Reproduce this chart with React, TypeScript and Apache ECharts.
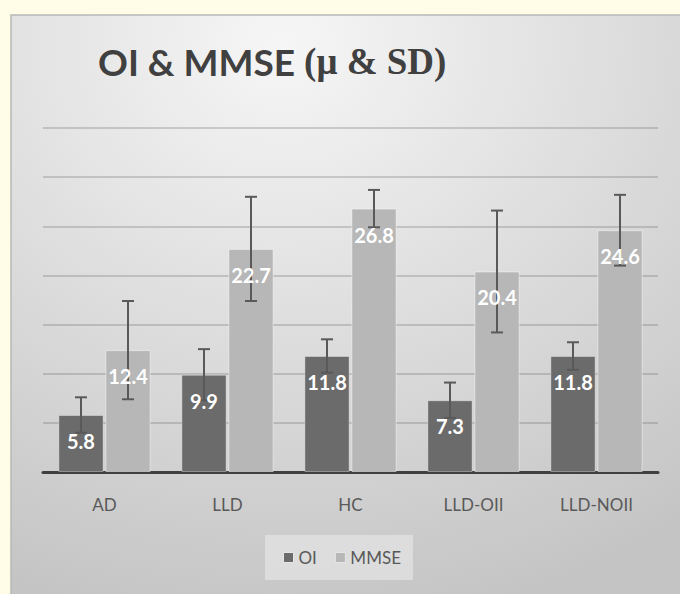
import React, { useEffect, useRef } from "react";
import * as echarts from "echarts";

const categories = ["AD", "LLD", "HC", "LLD-OII", "LLD-NOII"];
const oiMeans = [5.8, 9.9, 11.8, 7.3, 11.8];
const oiSD = [1.8, 2.6, 1.7, 1.8, 1.4];
const mmseMeans = [12.4, 22.7, 26.8, 20.4, 24.6];
const mmseSD = [5.0, 5.3, 1.9, 6.2, 3.6];
const seriesNames = ["OI", "MMSE"];

const CAT_GAP = 0.25;
const BAR_GAP = 0.04;

function barOffset(api: any, idx: number) {
  const band = api.size([1, 0])[0];
  const usable = band * (1 - CAT_GAP);
  const bw = usable / (2 + BAR_GAP);
  return (idx === 0 ? -1 : 1) * (bw + bw * BAR_GAP) / 2;
}

function makeErrorSeries(means: number[], sds: number[], idx: number) {
  return {
    type: "custom",
    name: seriesNames[idx] + "-err",
    z: 5,
    silent: true,
    data: means.map((m, i) => [i, m, sds[i]]),
    renderItem: (params: any, api: any) => {
      const ci = api.value(0);
      const m = api.value(1);
      const sd = api.value(2);
      const off = barOffset(api, idx);
      const top = api.coord([ci, m + sd]);
      const bot = api.coord([ci, m - sd]);
      const x = top[0] + off;
      const cap = 6;
      const style = { stroke: "#595959", lineWidth: 2 };
      return {
        type: "group",
        children: [
          { type: "line", shape: { x1: x, y1: top[1], x2: x, y2: bot[1] }, style },
          { type: "line", shape: { x1: x - cap, y1: top[1], x2: x + cap, y2: top[1] }, style },
          { type: "line", shape: { x1: x - cap, y1: bot[1], x2: x + cap, y2: bot[1] }, style },
        ],
      };
    },
  };
}

function makeLabelSeries(means: number[], idx: number) {
  return {
    type: "custom",
    name: seriesNames[idx] + "-lbl",
    z: 6,
    silent: true,
    data: means.map((m, i) => [i, m]),
    renderItem: (params: any, api: any) => {
      const ci = api.value(0);
      const m = api.value(1);
      const off = barOffset(api, idx);
      const p = api.coord([ci, m]);
      return {
        type: "text",
        x: p[0] + off,
        y: p[1] + 26,
        style: {
          text: String(m),
          fill: "#ffffff",
          fontFamily: "Lato",
          fontWeight: "bold",
          fontSize: 20,
          align: "center",
          verticalAlign: "middle",
        },
      };
    },
  };
}

export default function App() {
  const ref = useRef<HTMLDivElement>(null);
  useEffect(() => {
    if (!ref.current) return;
    const chart = echarts.init(ref.current, null, { renderer: "svg" });
    chart.setOption({
      animation: false,
      graphic: [
        {
          type: "rect",
          z: -10,
          shape: { x: 11, y: 15, width: 680, height: 590 },
          style: {
            fill: new echarts.graphic.RadialGradient(0.4, 0.05, 1.0, [
              { offset: 0, color: "#f6f6f6" },
              { offset: 1, color: "#c4c4c4" },
            ]),
            stroke: "#b8b8b8",
            lineWidth: 1.5,
          },
          silent: true,
        },
      ],
      title: {
        text: "{a|OI & MMSE }{b|(μ & SD)}",
        left: 93,
        top: 38,
        textStyle: {
          rich: {
            a: { fontFamily: "Lato", fontWeight: "bold", fontSize: 37, color: "#404040" },
            b: { fontFamily: "Liberation Serif", fontWeight: "bold", fontSize: 37, color: "#404040" },
          },
        },
      },
      legend: {
        data: seriesNames.map((n) => ({ name: n, itemStyle: { borderColor: "#e6e6e6", borderWidth: 1 } })),
        left: 265,
        top: 535,
        padding: [14, 12, 14, 18],
        backgroundColor: "rgba(225,225,225,0.8)",
        itemWidth: 10,
        itemHeight: 10,
        itemGap: 18,
        icon: "rect",
        textStyle: { fontFamily: "Lato", fontSize: 17, color: "#595959" },
      },
      grid: { left: 43, right: 22, top: 128, bottom: 122 },
      xAxis: {
        type: "category",
        data: categories,
        axisTick: { show: false },
        axisLine: { lineStyle: { color: "#404040", width: 3 } },
        axisLabel: { fontFamily: "Lato", fontSize: 17, color: "#595959", margin: 24 },
      },
      yAxis: {
        type: "value",
        min: 0,
        max: 35,
        interval: 5,
        axisLabel: { show: false },
        axisLine: { show: false },
        axisTick: { show: false },
        splitLine: { lineStyle: { color: "rgba(90,90,90,0.25)", width: 2 } },
      },
      series: [
        {
          name: "OI",
          type: "bar",
          data: oiMeans,
          barCategoryGap: "25%",
          barGap: "4%",
          itemStyle: { color: "#6b6b6b", borderColor: "rgba(255,255,255,0.35)", borderWidth: 1 },
        },
        {
          name: "MMSE",
          type: "bar",
          data: mmseMeans,
          barCategoryGap: "25%",
          barGap: "4%",
          itemStyle: { color: "#b7b7b7", borderColor: "rgba(255,255,255,0.45)", borderWidth: 1 },
        },
        makeErrorSeries(oiMeans, oiSD, 0),
        makeErrorSeries(mmseMeans, mmseSD, 1),
        makeLabelSeries(oiMeans, 0),
        makeLabelSeries(mmseMeans, 1),
      ],
    });
    return () => chart.dispose();
  }, []);
  return (
    <div style={{ position: "fixed", left: 0, top: 0, width: 680, height: 594, background: "#fffce8" }}>
      <div ref={ref} style={{ width: 680, height: 594 }} />
    </div>
  );
}
